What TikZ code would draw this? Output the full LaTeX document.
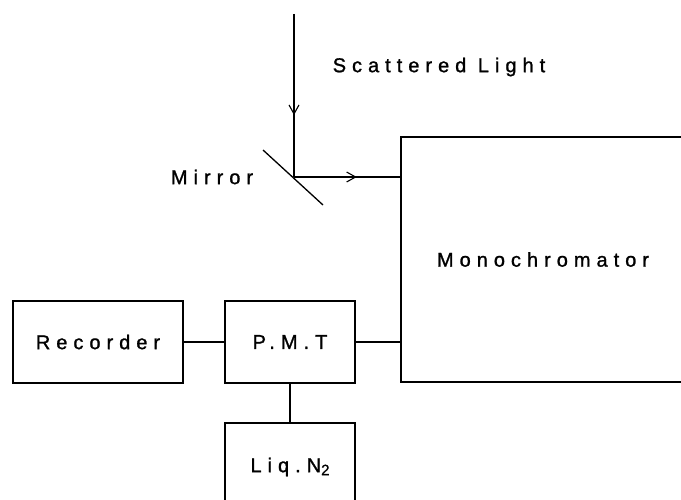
\documentclass[tikz,border=0pt]{standalone}
\usepackage{fontspec}
\newfontfamily\labelfont[LetterSpace=30,FakeBold=1.2]{Liberation Sans}
\usepackage{tikz}
\usetikzlibrary{arrows.meta,calc,decorations.markings,positioning}

\begin{document}
\begin{tikzpicture}[x=1pt,y=-1pt,line width=1.3pt,
  every node/.style={font=\labelfont\fontsize{20}{22}\selectfont},
  unit/.style={draw,line width=1.3pt,inner sep=0pt},
  midarrow/.style={postaction={decorate},decoration={markings,
    mark=at position #1 with {\arrow[line width=1.1pt]{Straight Barb[length=9pt,width=10pt]}}}}]
  \useasboundingbox (0,0) rectangle (681,500);
  \node[unit,minimum width=170pt,minimum height=82pt] (rec) at (98,342) {Recorder};
  \node[unit,minimum width=130pt,minimum height=82pt] (pmt) at (290,342) {P.M.T};
  \node[unit,minimum width=130pt,minimum height=88pt] (liq) at (290,467)
    {Liq.N\raisebox{-3pt}{\fontsize{15}{15}\selectfont 2}};
  \node[unit,minimum width=284pt,minimum height=245pt] (mono) at (543,259.5) {Monochromator};
  \coordinate (src) at (294,14);
  \coordinate (m) at (294,177);
  \draw[midarrow=0.62] (src) -- (m);
  \draw (263,150) -- (323,205);
  \draw[midarrow=0.59] (m) -- (m -| mono.west);
  \node (mlbl) at (212,177) {Mirror};
  \node (slbl) at (439,67) {Scattered Light};
  \draw (rec) -- (pmt);
  \draw (pmt) -- (pmt -| mono.west);
  \draw (pmt) -- (liq);
\end{tikzpicture}
\end{document}
